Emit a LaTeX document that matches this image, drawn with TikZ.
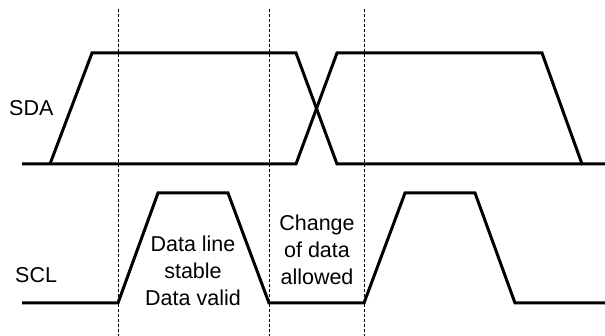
\documentclass[tikz,border=0pt]{standalone}
\usepackage{fontspec}
\setmainfont{Liberation Sans}
\usetikzlibrary{positioning}

\begin{document}
\begin{tikzpicture}[x=1pt,y=-1pt,
   sig/.style={line width=3pt,line join=miter},
   guide/.style={densely dashed,line width=0.7pt},
   lbl/.style={font=\fontsize{21.5}{27}\selectfont,align=center,inner sep=0pt}]
 \useasboundingbox (0,0) rectangle (605,336);
 % dotted time marks
 \foreach \X [count=\i] in {118,269,364}
  {\coordinate (top\i) at (\X,9);
   \coordinate (bot\i) at (\X,336);
   \draw[guide] (top\i) -- (bot\i);}
 % SDA
 \draw[sig] (22,164) -- (296,164) -- (337,53) -- (542,53) -- (582,164) -- (605,164);
 \draw[sig] (50,164) -- (92,53) -- (296,53) -- (337,164) -- (582,164);
 % SCL
 \draw[sig] (22,303) -- (118,303) -- (158,193) -- (228,193) -- (269,303)
   -- (364,303) -- (405,193) -- (475,193) -- (515,303) -- (605,303);
 \node[lbl,anchor=west] (sda) at (9,108) {SDA};
 \node[lbl,anchor=west] (scl) at (15,275) {SCL};
 \node[lbl] (valid) at (193,271) {Data line\\stable\\Data valid};
 \node[lbl] (change) at (317,250) {Change\\of data\\allowed};
\end{tikzpicture}
\end{document}
